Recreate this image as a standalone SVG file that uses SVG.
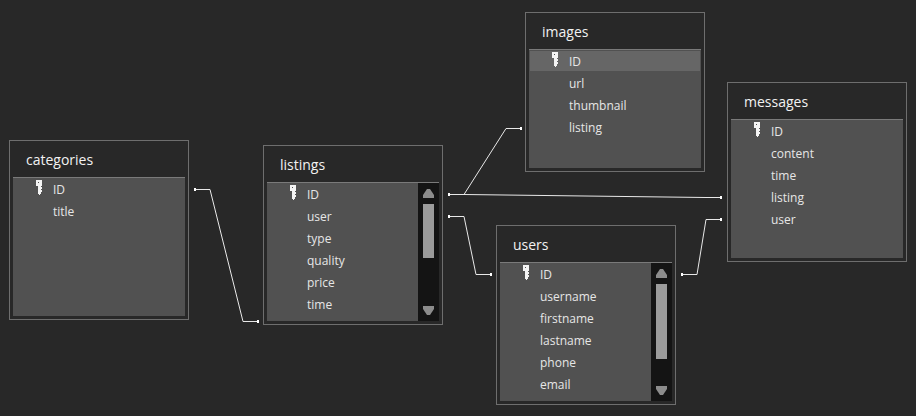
<svg xmlns="http://www.w3.org/2000/svg" width="916" height="416" viewBox="0 0 916 416">
<style>
.bg{fill:#282828}
.frame{fill:#282828;stroke:#6e6e6e;stroke-width:1}
.body{fill:#515151}
.top{stroke:#7a7a7a;stroke-width:1}
.bar{fill:#141414}
.thumb{fill:#9b9b9b}
.btn{fill:#8c8c8c}
.title{font-family:"Open Sans","Noto Sans",sans-serif;font-size:14px;fill:#f2f2f2}
.f{font-family:"Open Sans","Noto Sans",sans-serif;font-size:12px;fill:#e6e6e6}
.conn{fill:none;stroke:#e8e8e8;stroke-width:1}
.dot{fill:#ffffff}
.sel{fill:#666666}
</style>
<defs>
<g id="key">
<path fill="#f4f4f4" d="M0 0h6v6h-1v8h-1v1h-1v-1h-1v-8h-2z"/>
<path fill="#515151" d="M2 2h1v1h-1z"/>
<path fill="#f4f4f4" d="M5 7h1v2h-1zM5 10h1v2h-1z"/>
</g>
<g id="dot"><rect class="dot" x="-1" y="-1.500" width="2" height="3"/></g>
</defs>
<rect class="bg" width="916" height="416"/>
<g id="connectors">
<path class="conn" d="M195 189.500H210L243 321.500H258"/>
<path class="conn" d="M449 194.500H464L506 128.500H521"/>
<path class="conn" d="M449 194.500H464L706 197.500H721"/>
<path class="conn" d="M449 216.500H464L476 274.500H491"/>
<path class="conn" d="M682 274.500H697L706 219.500H721"/>
<use href="#dot" x="195" y="189.500"/><use href="#dot" x="258" y="321.500"/>
<use href="#dot" x="449" y="194.500"/><use href="#dot" x="521" y="128.500"/>
<use href="#dot" x="721" y="197.500"/><use href="#dot" x="449" y="216.500"/>
<use href="#dot" x="491" y="274.500"/><use href="#dot" x="682" y="274.500"/>
<use href="#dot" x="721" y="219.500"/>
</g>
<g id="categories">
<rect class="frame" x="9.500" y="140.500" width="179" height="179"/>
<rect class="body" x="13" y="177" width="172" height="139"/>
<path class="top" d="M13 177.500H185"/>
<text class="title" x="26" y="165">categories</text>
<use href="#key" x="36" y="180"/>
<text class="f" x="53" y="194">ID</text>
<text class="f" x="53" y="216">title</text>
</g>
<g id="listings">
<rect class="frame" x="263.500" y="145.500" width="179" height="179"/>
<rect class="body" x="267" y="182" width="172" height="139"/>
<rect class="bar" x="418" y="183" width="21" height="138"/>
<path class="top" d="M267 182.500H439"/>
<rect class="thumb" x="423" y="204" width="11" height="54"/>
<path class="btn" d="M423 198V195L427 189H430L434 195V198Z"/>
<path class="btn" d="M423 306H434V309L430 315H427L423 309Z"/>
<text class="title" x="280" y="170">listings</text>
<use href="#key" x="290" y="185"/>
<text class="f" x="307" y="199">ID</text>
<text class="f" x="307" y="221">user</text>
<text class="f" x="307" y="243">type</text>
<text class="f" x="307" y="265">quality</text>
<text class="f" x="307" y="287">price</text>
<text class="f" x="307" y="309">time</text>
</g>
<g id="users">
<rect class="frame" x="496.500" y="225.500" width="179" height="179"/>
<rect class="body" x="500" y="262" width="172" height="139"/>
<rect class="bar" x="651" y="263" width="21" height="138"/>
<path class="top" d="M500 262.500H672"/>
<rect class="thumb" x="656" y="284" width="11" height="75"/>
<path class="btn" d="M656 278V275L660 269H663L667 275V278Z"/>
<path class="btn" d="M656 386H667V389L663 395H660L656 389Z"/>
<text class="title" x="513" y="250">users</text>
<use href="#key" x="523" y="265"/>
<text class="f" x="540" y="279">ID</text>
<text class="f" x="540" y="301">username</text>
<text class="f" x="540" y="323">firstname</text>
<text class="f" x="540" y="345">lastname</text>
<text class="f" x="540" y="367">phone</text>
<text class="f" x="540" y="389">email</text>
</g>
<g id="images">
<rect class="frame" x="525.500" y="12.500" width="179" height="159"/>
<rect class="body" x="529" y="49" width="172" height="119"/>
<path class="top" d="M529 49.500H701"/>
<rect class="sel" x="530" y="51" width="170" height="20"/>
<text class="title" x="542" y="37">images</text>
<use href="#key" x="552" y="52"/>
<text class="f" x="569" y="66">ID</text>
<text class="f" x="569" y="88">url</text>
<text class="f" x="569" y="110">thumbnail</text>
<text class="f" x="569" y="132">listing</text>
</g>
<g id="messages">
<rect class="frame" x="727.500" y="82.500" width="179" height="179"/>
<rect class="body" x="731" y="119" width="172" height="139"/>
<path class="top" d="M731 119.500H903"/>
<text class="title" x="744" y="107">messages</text>
<use href="#key" x="754" y="122"/>
<text class="f" x="771" y="136">ID</text>
<text class="f" x="771" y="158">content</text>
<text class="f" x="771" y="180">time</text>
<text class="f" x="771" y="202">listing</text>
<text class="f" x="771" y="224">user</text>
</g>
</svg>
